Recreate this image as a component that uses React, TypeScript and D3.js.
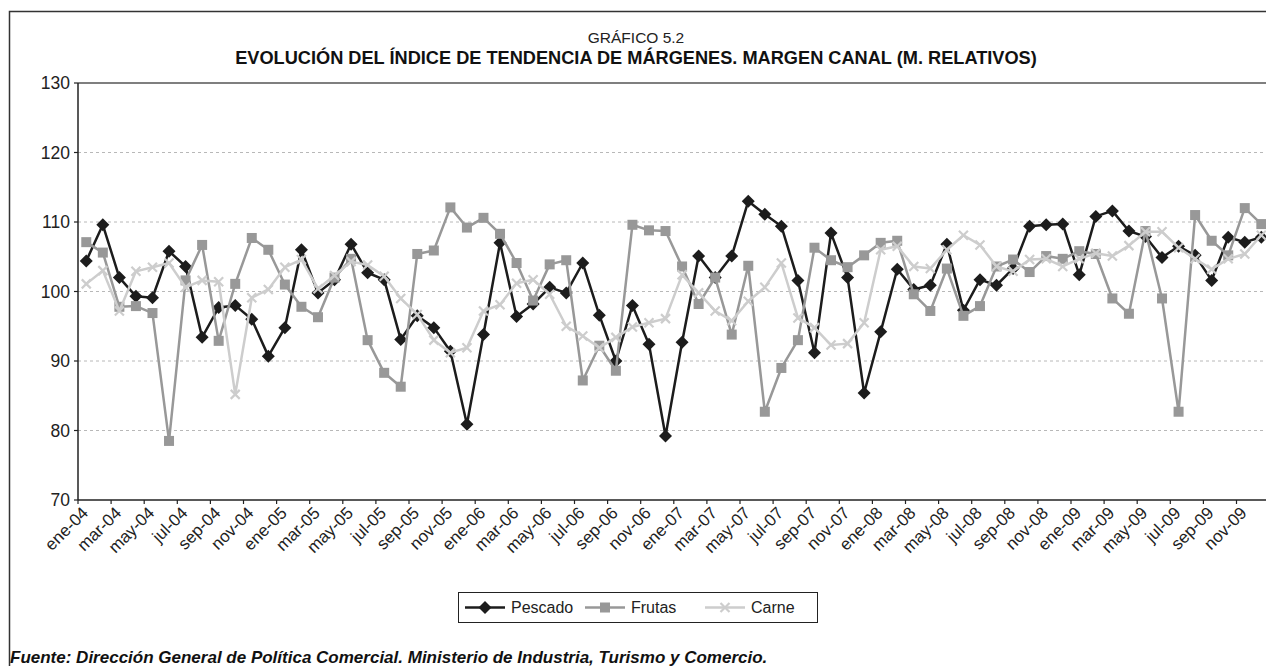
import React from "react";
import * as d3 from "d3";

const monthNames = ["ene", "feb", "mar", "abr", "may", "jun", "jul", "ago", "sep", "oct", "nov", "dic"];
const years = ["04", "05", "06", "07", "08", "09"];
const categories: string[] = years.flatMap(y => monthNames.map(m => `${m}-${y}`));

const pescado = [
  104.4, 109.6, 102.0, 99.3, 99.1, 105.8, 103.6, 93.4, 97.7, 98.0, 96.0, 90.7,
  94.8, 106.0, 99.8, 101.7, 106.8, 102.7, 101.7, 93.1, 96.5, 94.8, 91.4, 80.9,
  93.8, 107.0, 96.4, 98.2, 100.6, 99.8, 104.1, 96.6, 90.0, 98.0, 92.4, 79.2,
  92.7, 105.1, 102.0, 105.1, 113.0, 111.1, 109.4, 101.6, 91.2, 108.4, 102.0, 85.4,
  94.2, 103.2, 100.3, 100.9, 106.8, 97.3, 101.7, 100.9, 103.3, 109.4, 109.6, 109.7,
  102.4, 110.8, 111.6, 108.7, 107.9, 104.9, 106.5, 105.2, 101.6, 107.8, 107.1, 107.8
];

const frutas = [
  107.1, 105.6, 97.8, 97.9, 96.9, 78.5, 101.6, 106.7, 92.9, 101.1, 107.7, 106.0,
  101.0, 97.8, 96.3, 102.0, 104.7, 93.0, 88.3, 86.3, 105.4, 105.9, 112.1, 109.2,
  110.6, 108.3, 104.1, 98.7, 103.9, 104.5, 87.2, 92.2, 88.6, 109.6, 108.8, 108.7,
  103.6, 98.2, 102.0, 93.8, 103.7, 82.7, 89.0, 93.0, 106.3, 104.5, 103.5, 105.2,
  107.0, 107.3, 99.6, 97.2, 103.3, 96.5, 97.9, 103.6, 104.6, 102.8, 105.1, 104.7,
  105.8, 105.4, 99.0, 96.8, 108.7, 99.0, 82.7, 111.0, 107.3, 105.2, 112.0, 109.7
];

const carne = [
  101.1, 103.0, 97.2, 102.9, 103.5, 104.1, 100.6, 101.6, 101.4, 85.2, 99.1, 100.3,
  103.5, 104.6, 100.4, 102.3, 104.3, 103.8, 102.2, 99.0, 96.7, 93.0, 91.2, 91.9,
  97.2, 98.1, 101.2, 101.7, 99.6, 95.0, 93.6, 91.9, 93.4, 94.9, 95.5, 96.1,
  102.4, 99.8, 97.2, 95.8, 98.6, 100.6, 104.1, 96.2, 94.8, 92.3, 92.5, 95.5,
  106.0, 106.5, 103.6, 103.3, 106.0, 108.1, 106.7, 103.6, 102.9, 104.6, 104.7, 103.6,
  104.7, 105.5, 105.1, 106.6, 108.6, 108.6, 106.3, 104.7, 103.2, 104.7, 105.4, 108.1
];

const yTicks = [70, 80, 90, 100, 110, 120, 130];

const series = [
  { name: "Pescado", values: pescado, color: "#1c1c1c", marker: "diamond" },
  { name: "Frutas", values: frutas, color: "#989898", marker: "square" },
  { name: "Carne", values: carne, color: "#cdcdcd", marker: "x" }
];

const W = 1266;
const H = 666;
const left = 78;
const top = 83;
const bottom = 500;
const bandW = 16.55;

const font = "'Liberation Sans', Arial, Helvetica, sans-serif";

const Marker = ({ type, x, y, color }: { type: string; x: number; y: number; color: string }) => {
  if (type === "diamond") {
    const r = 6.5;
    return <path d={`M${x},${y - r}L${x + r},${y}L${x},${y + r}L${x - r},${y}Z`} fill={color} />;
  }
  if (type === "square") {
    const s = 10;
    return <rect x={x - s / 2} y={y - s / 2} width={s} height={s} fill={color} />;
  }
  const r = 4.5;
  return (
    <path
      d={`M${x - r},${y - r}L${x + r},${y + r}M${x - r},${y + r}L${x + r},${y - r}`}
      stroke={color}
      strokeWidth={2.2}
      fill="none"
    />
  );
};

export default function App() {
  const x = d3
    .scaleBand<string>()
    .domain(categories)
    .range([left, left + bandW * categories.length]);
  const cx = (c: string) => (x(c) ?? 0) + x.bandwidth() / 2;

  const y = d3.scaleLinear().domain([70, 130]).range([bottom, top]);

  const line = d3
    .line<number>()
    .x((_, i) => cx(categories[i]))
    .y(d => y(d));

  const legendItems = [
    { s: series[0], x: 465 },
    { s: series[1], x: 585 },
    { s: series[2], x: 705 }
  ];

  return (
    <svg
      width={W}
      height={H}
      style={{ position: "absolute", left: 0, top: 0, background: "#fff" }}
      fontFamily={font}
    >
      <rect x={9.5} y={11.5} width={1300} height={700} fill="none" stroke="#333" strokeWidth={1.5} />

      <text x={636} y={43} textAnchor="middle" fontSize={15.5} fill="#222">
        GRÁFICO 5.2
      </text>
      <text x={636} y={64} textAnchor="middle" fontSize={18.2} fontWeight="bold" fill="#111">
        EVOLUCIÓN DEL ÍNDICE DE TENDENCIA DE MÁRGENES. MARGEN CANAL (M. RELATIVOS)
      </text>

      {/* grid */}
      {yTicks.filter(t => t > 70 && t < 130).map(t => (
        <line
          key={t}
          x1={left}
          x2={W}
          y1={y(t)}
          y2={y(t)}
          stroke="#b8b8b8"
          strokeWidth={1}
          strokeDasharray="3,3"
        />
      ))}
      <line x1={left} x2={W} y1={y(130)} y2={y(130)} stroke="#555" strokeWidth={1.5} />

      {/* y axis */}
      <line x1={left} x2={left} y1={top} y2={bottom} stroke="#222" strokeWidth={1.5} />
      {yTicks.map(t => (
        <g key={t}>
          <line x1={left - 4} x2={left} y1={y(t)} y2={y(t)} stroke="#222" strokeWidth={1.2} />
          <text x={70} y={y(t)} dy="0.36em" textAnchor="end" fontSize={17.5} fill="#222">
            {t}
          </text>
        </g>
      ))}

      {/* x axis */}
      <line x1={left} x2={W} y1={bottom} y2={bottom} stroke="#222" strokeWidth={1.5} />
      {categories.map((c, i) =>
        i % 2 === 0 ? (
          <g key={c}>
            <line x1={x(c)} x2={x(c)} y1={bottom} y2={bottom + 4} stroke="#222" strokeWidth={1.2} />
            <text
              transform={`translate(${cx(c) + 3},${bottom + 14}) rotate(-45)`}
              textAnchor="end"
              fontSize={17}
              fill="#222"
            >
              {c}
            </text>
          </g>
        ) : null
      )}

      {/* series */}
      {series.map(s => (
        <g key={s.name}>
          <path d={line(s.values) ?? ""} fill="none" stroke={s.color} strokeWidth={2.5} strokeLinejoin="round" />
          {s.values.map((v, i) => (
            <Marker key={i} type={s.marker} x={cx(categories[i])} y={y(v)} color={s.color} />
          ))}
        </g>
      ))}

      {/* legend */}
      <rect x={458.5} y={592.5} width={359} height={30} fill="#fff" stroke="#222" strokeWidth={1} />
      {legendItems.map(({ s, x: lx }) => (
        <g key={s.name}>
          <line x1={lx} x2={lx + 40} y1={607.5} y2={607.5} stroke={s.color} strokeWidth={2.5} />
          <Marker type={s.marker} x={lx + 20} y={607.5} color={s.color} />
          <text x={lx + 46} y={607.5} dy="0.36em" fontSize={16} fill="#222">
            {s.name}
          </text>
        </g>
      ))}

      <text x={10} y={663} fontSize={17} fontWeight="bold" fontStyle="italic" fill="#111">
        Fuente: Dirección General de Política Comercial. Ministerio de Industria, Turismo y Comercio.
      </text>
    </svg>
  );
}
